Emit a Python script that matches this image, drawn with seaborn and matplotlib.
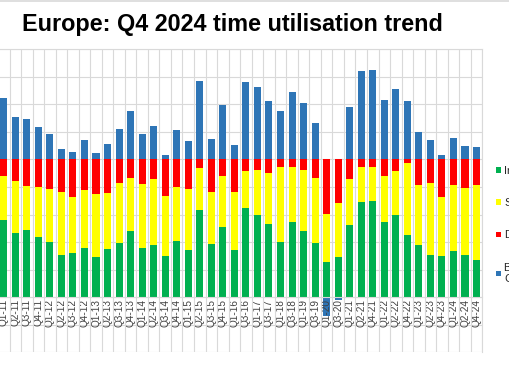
import numpy as np
import pandas as pd
import matplotlib
matplotlib.use("Agg")
import matplotlib.pyplot as plt
from matplotlib.lines import Line2D
from matplotlib.patches import Patch
import seaborn as sns

# quarters as labelled on the chart
quarters = ["Q1-11", "Q2-11", "Q3-11", "Q4-11", "Q1-12", "Q2-12", "Q3-12", "Q4-12",
            "Q1-13", "Q2-13", "Q3-13", "Q4-13", "Q1-14", "Q2-14", "Q3-14", "Q4-14",
            "Q1-15", "Q2-15", "Q3-15", "Q4-15", "Q1-16", "Q3-16", "Q1-17", "Q3-17",
            "Q1-18", "Q3-18", "Q1-19", "Q3-19", "Q1-20", "Q3-20", "Q1-21", "Q2-21",
            "Q4-21", "Q1-22", "Q2-22", "Q4-22", "Q1-23", "Q2-23", "Q4-23", "Q1-24",
            "Q2-24", "Q4-24"]

# shares of available time, %
invoiced = [56.3, 46.6, 48.5, 43.7, 39.8, 30.6, 32.0, 35.4, 29.4, 35.2, 39.3, 48.1,
            35.7, 37.9, 29.6, 41.0, 34.5, 63.3, 38.6, 51.0, 34.0, 64.6, 59.5, 52.9,
            39.8, 54.6, 48.1, 39.3, 25.7, 29.4, 52.2, 69.2, 70.1, 54.6, 59.5, 44.9,
            37.9, 30.8, 30.1, 33.3, 30.3, 26.9]
standby = [31.6, 37.9, 32.3, 36.2, 38.8, 45.6, 41.1, 42.8, 45.8, 40.5, 43.5, 38.8,
           46.6, 48.0, 43.7, 39.3, 44.1, 30.4, 37.6, 37.3, 42.5, 26.9, 33.0, 37.1,
           55.1, 39.6, 44.1, 47.4, 34.5, 38.8, 33.5, 25.0, 24.6, 33.7, 31.8, 52.2,
           43.4, 52.2, 43.0, 48.5, 49.1, 54.7]
downtime = [12.1, 15.5, 19.2, 20.1, 21.4, 23.8, 26.9, 21.8, 24.8, 24.3, 17.2, 13.1,
            17.7, 14.1, 26.7, 19.7, 21.4, 6.3, 23.8, 11.7, 23.5, 8.5, 7.5, 10.0,
            5.1, 5.8, 7.8, 13.3, 39.8, 31.8, 14.3, 5.8, 5.3, 11.7, 8.7, 2.9,
            18.7, 17.0, 26.9, 18.2, 20.6, 18.4]
# balance above (or below) capacity
balance = [44.4, 31.0, 29.6, 23.8, 18.2, 7.3, 5.3, 14.1, 4.6, 11.2, 22.1, 35.0,
           18.2, 24.3, 2.9, 21.4, 13.3, 57.0, 15.0, 39.3, 10.7, 56.6, 52.4, 42.7,
           35.0, 49.0, 40.8, 26.2, -13.3, -1.9, 38.3, 64.1, 65.0, 43.2, 51.2, 42.2,
           19.7, 14.3, 3.6, 15.5, 10.0, 8.7]

series_names = ["Invoiced", "Standby", "Downtime", "Balance of\nCapacity"]
colors = ["#00b050", "#ffff00", "#ff0000", "#2e75b6"]

df = pd.DataFrame({"quarter": quarters, "inv": invoiced, "stb": standby,
                   "down": downtime, "bal": np.array(balance)})
df["top_stb"] = df["inv"] + df["stb"]
df["top_down"] = df["top_stb"] + df["down"]
# positive balance sits on top of the stack, negative hangs below zero
df["top_bal"] = np.where(df["bal"] >= 0, df["top_down"] + df["bal"], df["bal"])

sns.set_style("white")
plt.rcParams["font.family"] = ["Liberation Sans", "DejaVu Sans"]

fig = plt.figure(figsize=(5.1, 3.82), dpi=100)
ax = fig.add_axes([-2 / 510, 1 - 352.3 / 382, 484.3 / 510, 303 / 382])

w = 0.61
sns.barplot(data=df, x="quarter", y="top_bal", color=colors[3], width=w,
            errorbar=None, linewidth=0, saturation=1, ax=ax)
sns.barplot(data=df, x="quarter", y="top_down", color=colors[2], width=w,
            errorbar=None, linewidth=0, saturation=1, ax=ax)
sns.barplot(data=df, x="quarter", y="top_stb", color=colors[1], width=w,
            errorbar=None, linewidth=0, saturation=1, ax=ax)
sns.barplot(data=df, x="quarter", y="inv", color=colors[0], width=w,
            errorbar=None, linewidth=0, saturation=1, ax=ax)

grid_c = "#d9d9d9"
ax.set_xlim(-0.5, len(quarters) - 0.5)
ax.set_ylim(-40, 180)
ax.set_yticks(range(-40, 181, 20))
ax.set_yticklabels([])
ax.set_xticks(np.arange(len(quarters)) + 0.5, minor=True)
ax.set_axisbelow(True)
ax.xaxis.set_zorder(3)  # quarter labels stay readable over the negative bars
ax.yaxis.grid(True, color=grid_c, linewidth=0.8)
ax.xaxis.grid(True, which="minor", color=grid_c, linewidth=0.8)
ax.xaxis.grid(False, which="major")
ax.tick_params(axis="y", length=0)
ax.tick_params(axis="x", which="both", length=0, pad=1.2, labelsize=7.2,
               labelcolor="#404040", rotation=90)
ax.set_xlabel("")
ax.set_ylabel("")

ax.spines["bottom"].set_position(("data", 0))
for side in ["bottom", "top", "right"]:
    ax.spines[side].set_color(grid_c)
    ax.spines[side].set_linewidth(0.8)
ax.spines["left"].set_visible(False)

fig.text(22 / 510, 1 - 31 / 382, "Europe: Q4 2024 time utilisation trend",
         fontsize=16.8, fontweight="bold", color="black", va="baseline")

fig.add_artist(Line2D([0, 1], [1 - 0.8 / 382, 1 - 0.8 / 382], color=grid_c,
                      linewidth=1.2))

handles = [Patch(facecolor=c, edgecolor="none") for c in colors]
fig.legend(handles, series_names, loc="upper left",
           bbox_to_anchor=(495.7 / 510, 1 - 166 / 382), frameon=False,
           fontsize=8, handlelength=0.45, handleheight=0.45,
           handletextpad=0.3, labelspacing=2.0, borderpad=0, borderaxespad=0,
           labelcolor="#262626")

fig.savefig("out.png", dpi=100)
